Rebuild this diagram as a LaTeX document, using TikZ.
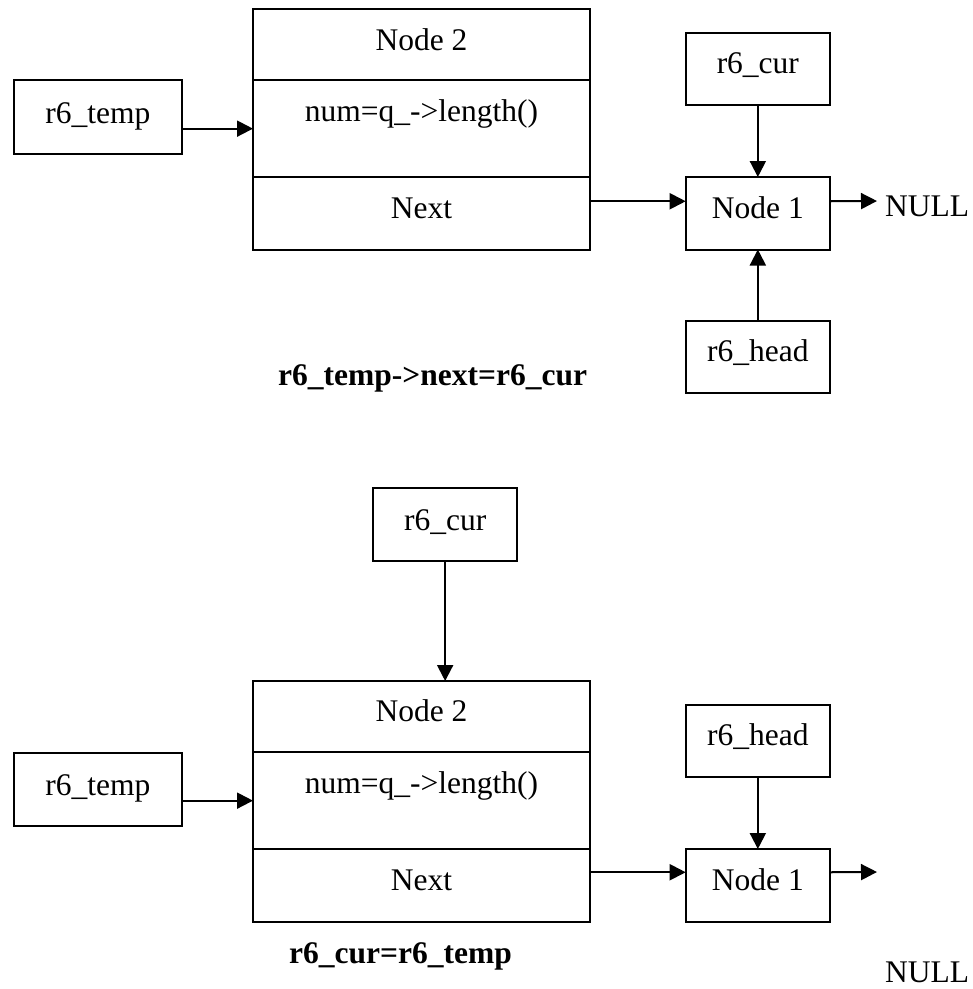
\documentclass[tikz,border=0pt]{standalone}
\usepackage{fontspec}
\setmainfont{Liberation Serif}
\usetikzlibrary{arrows.meta}
\begin{document}
\fontsize{31.5}{38}\selectfont
\begin{tikzpicture}[x=1pt,y=-1pt,
  box/.style={draw, line width=2pt, inner sep=0pt, outer sep=0pt,
    minimum width=144.3pt, text height=41pt, text depth=31.5pt, anchor=north west},
  wide/.style={box, minimum width=337pt},
  ptrbox/.style={box, minimum width=168.3pt},
  datacell/.style={wide, text height=41.5pt, text depth=55.2pt},
  arr/.style={-{Triangle[length=16pt,width=16pt]}, line width=2pt},
  caption/.style={anchor=base west, inner sep=0pt, font=\bfseries},
  plain/.style={anchor=base west, inner sep=0pt}]
\useasboundingbox (0,0) rectangle (973,989);

% ---- state after r6_temp->next = r6_cur ----
\node[ptrbox, text height=43pt, text depth=30.7pt] (atemp) at (13.7,80) {r6\_temp};
\node[wide, text height=41.3pt, text depth=30.3pt] (atitle) at (253,8.7) {Node 2};
\node[datacell] (adata) at (253,80.3) {num=q\_->length()};
\node[wide] (anext) at (253,177) {Next};
\node[box] (acur) at (685.7,32.7) {r6\_cur};
\node[box] (aone) at (685.7,177) {Node 1};
\node[box] (ahead) at (685.7,320.7) {r6\_head};
\node[plain] (anull) at (885,216) {NULL};
\node[caption] (astep) at (278,385) {r6\_temp->next=r6\_cur};
\coordinate (aend) at (877,201);

\draw[arr] (atemp.east |- adata.west) -- (adata.west);
\draw[arr] ([yshift=12pt]anext.east) -- ([yshift=12pt]aone.west);
\draw[arr] ([yshift=12pt]aone.east) -- (aend);
\draw[arr] (acur.south) -- (aone.north);
\draw[arr] (ahead.north) -- (aone.south);

% ---- state after r6_cur = r6_temp ----
\node[ptrbox, text height=42.3pt, text depth=30.7pt] (btemp) at (13.7,752.7) {r6\_temp};
\node[wide, text height=40.7pt, text depth=30.6pt] (btitle) at (253,681) {Node 2};
\node[datacell] (bdata) at (253,752.3) {num=q\_->length()};
\node[wide] (bnext) at (253,849) {Next};
\node[box, text height=42pt, text depth=31pt] (bcur) at (373,488) {r6\_cur};
\node[box] (bhead) at (685.7,704.7) {r6\_head};
\node[box] (bone) at (685.7,849) {Node 1};
\node[plain] (bnull) at (885,982.7) {NULL};
\node[caption] (bstep) at (289,963) {r6\_cur=r6\_temp};
\coordinate (bend) at (877,872);

\draw[arr] (btemp.east |- bdata.west) -- (bdata.west);
\draw[arr] (bcur.south) -- (bcur.south |- btitle.north);
\draw[arr] ([yshift=13pt]bnext.east) -- ([yshift=13pt]bone.west);
\draw[arr] ([yshift=13pt]bone.east) -- (bend);
\draw[arr] (bhead.south) -- (bone.north);
\end{tikzpicture}
\end{document}
